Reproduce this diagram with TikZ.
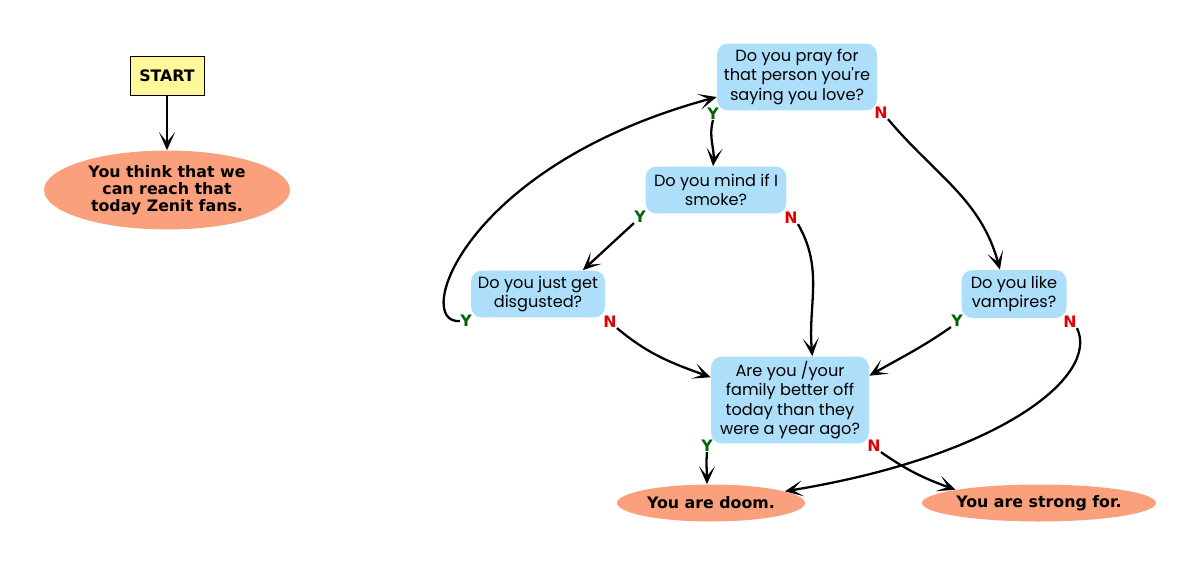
\documentclass[tikz,border=0pt]{standalone}
\usepackage{fontspec}
\setmainfont{DejaVu Sans}
\newfontfamily\askfont{Poppins}
\usetikzlibrary{arrows.meta, shapes.geometric}
\definecolor{ask-blue}{HTML}{AEDFFA}
\definecolor{end-salmon}{HTML}{FBA07C}
\definecolor{start-yellow}{HTML}{FFF79A}
\definecolor{yes-green}{HTML}{006400}
\definecolor{no-red}{HTML}{E00000}

\begin{document}
\begin{tikzpicture}[x=0.02cm, y=0.02cm,
        every node/.style={font=\fontsize{9}{9.7}\selectfont\bfseries},
        ask/.style={fill=ask-blue, rounded corners=0.22cm, align=center,
            inner sep=0pt, font=\askfont\fontsize{9.2}{11}\selectfont},
        verdict/.style={ellipse, fill=end-salmon, align=center, inner sep=0pt},
        yes/.style={text=yes-green, inner sep=0pt},
        no/.style={text=no-red, inner sep=0pt},
        link/.style={-{Stealth[length=3.6mm, width=3.2mm, inset=2mm]},
            line width=1.3pt}]
      \useasboundingbox (0,0) rectangle (1200,566);
      \node[draw, fill=start-yellow, minimum width=1.48cm, minimum height=0.78cm]
            (start) at (167,490) {START};
      \node[verdict, minimum width=4.92cm, minimum height=1.58cm]
            (think) at (167,376) {You think that we\\can reach that\\today Zenit fans.};
      \node[ask, minimum width=3.2cm, minimum height=1.34cm]
            (pray) at (797,489) {Do you pray for\\that person you're\\saying you love?};
      \node[ask, minimum width=2.82cm, minimum height=0.94cm]
            (smoke) at (716,376) {Do you mind if I\\smoke?};
      \node[ask, minimum width=2.68cm, minimum height=0.94cm]
            (disgust) at (538,272) {Do you just get\\disgusted?};
      \node[ask, minimum width=2.1cm, minimum height=0.96cm]
            (vamp) at (1014,272) {Do you like\\vampires?};
      \node[ask, minimum width=3.16cm, minimum height=1.74cm]
            (family) at (790,166) {Are you /your\\family better off\\today than they\\were a year ago?};
      \node[verdict, minimum width=3.76cm, minimum height=0.74cm]
            (doom) at (711,63) {You are doom.};
      \node[verdict, minimum width=4.68cm, minimum height=0.74cm]
            (strong) at (1039,63) {You are strong for.};
      \node[yes] (prayY) at (713,452) {Y};
      \node[no]  (prayN) at (881,453) {N};
      \node[yes] (smokeY) at (640,349) {Y};
      \node[no]  (smokeN) at (791,348) {N};
      \node[yes] (disgustY) at (466,245) {Y};
      \node[no]  (disgustN) at (610,244) {N};
      \node[yes] (vampY) at (957,245) {Y};
      \node[no]  (vampN) at (1070,244) {N};
      \node[yes] (familyY) at (707,120) {Y};
      \node[no]  (familyN) at (874,120) {N};
      \draw[link] (start) -- (think);
      \draw[link] (prayY.south) to[out=-105, in=85] (smoke.north -| prayY.south);
      \draw[link] (prayN.south east) to[out=-50, in=105] (vamp.120);
      \draw[link] (smokeY.south west) -- (disgust.28);
      \draw[link] (smokeN.south east) to[out=-60, in=95] (family.63);
      \draw[link] (disgustY.west) .. controls (412,241) and (462,400) .. (pray.194);
      \draw[link] (disgustN.south east) to[out=-40, in=160] (family.164);
      \draw[link] (vampY.south west) to[out=-145, in=30] (family.17);
      \draw[link] (vampN.south east) .. controls (1100,190) and (1000,110) .. (doom.9);
      \draw[link] (familyY.south) to[out=-95, in=90] (doom.north -| familyY.south);
      \draw[link] (familyN.south east) to[out=-35, in=160] (strong.171);
\end{tikzpicture}
\end{document}
